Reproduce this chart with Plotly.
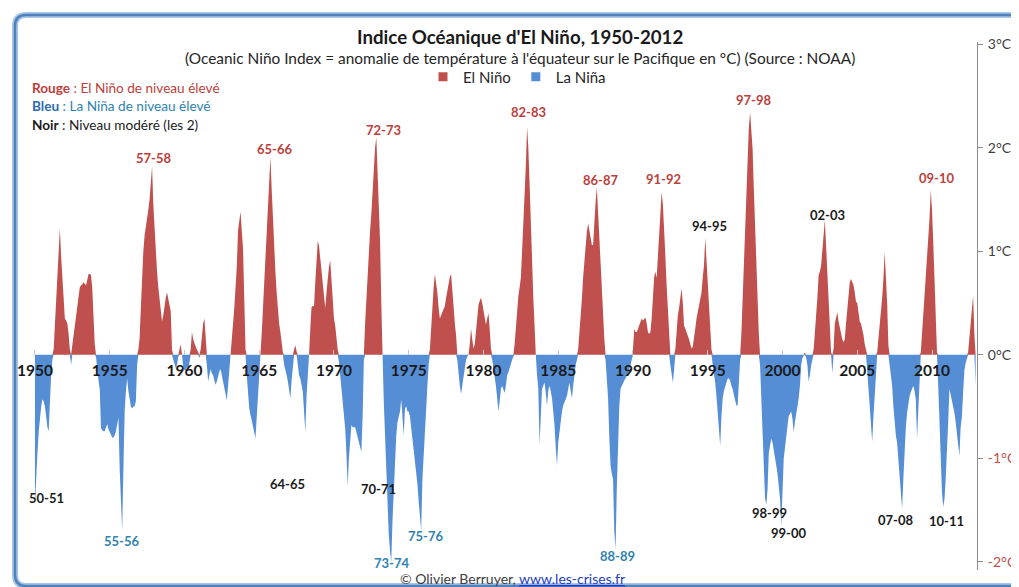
import plotly.graph_objects as go

# Monthly Oceanic Nino Index (deg C), Jan 1950 .. Dec 2012
oni_1950s = [
    -1.45, -1.13, -0.95, -0.75, -0.6, -0.5, -0.43, -0.45, -0.5, -0.6, -0.7, -0.74,   # 1950
    -0.45, -0.2, -0.05, 0.05, 0.3, 0.55, 0.75, 1.05, 1.22, 0.95, 0.75, 0.5,          # 1951
    0.35, 0.33, 0.3, 0.2, 0.05, -0.1, 0.1, 0.2, 0.3, 0.4, 0.5, 0.6,                  # 1952
    0.65, 0.67, 0.68, 0.7, 0.68, 0.67, 0.72, 0.78, 0.78, 0.77, 0.64, 0.3,            # 1953
    0.1, -0.02, -0.15, -0.25, -0.33, -0.71, -0.73, -0.74, -0.74, -0.7, -0.67, -0.72, # 1954
    -0.75, -0.77, -0.8, -0.8, -0.78, -0.74, -0.68, -0.61, -1.1, -1.45, -1.7, -1.1,   # 1955
    -0.55, -0.35, -0.23, -0.35, -0.45, -0.5, -0.52, -0.5, -0.5, -0.45, -0.1, 0.05,   # 1956
    0.16, 0.45, 0.8, 1.0, 1.15, 1.22, 1.3, 1.4, 1.5, 1.65, 1.82, 1.45,               # 1957
    1.2, 0.97, 0.8, 0.65, 0.55, 0.45, 0.32, 0.38, 0.48, 0.55, 0.6, 0.55,             # 1958
    0.5, 0.42, 0.05, -0.05, -0.1, -0.13, -0.1, -0.02, 0.05, 0.1, 0.0, -0.12,         # 1959
]
oni_1960s = [
    -0.15, -0.15, -0.12, -0.15, -0.08, 0.05, 0.22, 0.15, 0.1, 0.08, 0.05, 0.02,      # 1960
    -0.03, 0.05, 0.2, 0.3, 0.35, 0.1, -0.1, -0.26, -0.2, -0.14, -0.18, -0.2,         # 1961
    -0.25, -0.29, -0.26, -0.2, -0.16, -0.14, -0.2, -0.25, -0.3, -0.38, -0.44, -0.3,  # 1962
    -0.15, 0.0, 0.15, 0.28, 0.45, 0.65, 0.85, 1.2, 1.3, 1.38, 1.2, 1.03,             # 1963
    0.55, 0.05, -0.2, -0.4, -0.52, -0.58, -0.63, -0.68, -0.75, -0.81, -0.6, -0.37,   # 1964
    -0.15, 0.0, 0.2, 0.45, 0.67, 0.9, 1.2, 1.47, 1.7, 1.91, 1.6, 1.3,                # 1965
    1.05, 0.8, 0.6, 0.44, 0.3, 0.22, 0.1, 0.02, -0.1, -0.17, -0.2, -0.26,            # 1966
    -0.35, -0.42, -0.25, -0.1, 0.05, 0.09, 0.03, -0.1, -0.2, -0.23, -0.3, -0.36,     # 1967
    -0.55, -0.75, -0.4, -0.2, 0.0, 0.25, 0.46, 0.47, 0.47, 0.7, 0.93, 1.1,           # 1968
    1.05, 0.93, 0.8, 0.64, 0.5, 0.45, 0.6, 0.74, 0.85, 0.91, 0.7, 0.47,              # 1969
]
oni_1970s = [
    0.35, 0.28, 0.12, 0.05, -0.07, -0.2, -0.3, -0.4, -0.55, -0.71, -0.96, -1.27,     # 1970
    -1.0, -0.8, -0.68, -0.7, -0.7, -0.7, -0.75, -0.8, -0.85, -0.9, -0.94, -0.6,      # 1971
    -0.05, 0.3, 0.55, 0.82, 1.0, 1.2, 1.36, 1.6, 1.88, 2.0, 2.1, 1.8,                # 1972
    1.5, 1.1, 0.5, 0.0, -0.46, -0.8, -1.1, -1.45, -1.74, -1.9, -2.0, -1.6,           # 1973
    -1.27, -1.0, -0.78, -0.65, -0.6, -0.55, -0.43, -0.62, -0.78, -0.52, -0.5, -0.55, # 1974
    -0.55, -0.6, -0.7, -0.84, -0.95, -1.0, -1.1, -1.25, -1.42, -1.55, -1.7, -1.2,    # 1975
    -0.94, -0.7, -0.46, -0.3, -0.1, 0.05, 0.25, 0.51, 0.65, 0.78, 0.7, 0.6,          # 1976
    0.45, 0.35, 0.38, 0.41, 0.45, 0.47, 0.55, 0.62, 0.7, 0.75, 0.78, 0.65,           # 1977
    0.47, 0.3, 0.19, -0.05, -0.2, -0.3, -0.38, -0.3, -0.2, -0.1, -0.05, -0.02,       # 1978
    0.0, 0.1, 0.25, 0.15, 0.06, 0.1, 0.25, 0.42, 0.48, 0.52, 0.55, 0.5,              # 1979
]
oni_1980s = [
    0.42, 0.35, 0.29, 0.35, 0.4, 0.25, 0.06, -0.05, -0.12, -0.2, -0.3, -0.42,        # 1980
    -0.55, -0.45, -0.33, -0.3, -0.35, -0.37, -0.3, -0.2, -0.17, -0.12, -0.07, -0.05, # 1981
    -0.02, 0.1, 0.25, 0.45, 0.57, 0.65, 0.74, 1.0, 1.25, 1.6, 1.83, 2.2,             # 1982
    2.0, 1.66, 1.25, 0.87, 0.55, 0.28, 0.0, -0.2, -0.33, -0.87, -0.6, -0.33,         # 1983
    -0.3, -0.27, -0.37, -0.49, -0.35, -0.3, -0.35, -0.42, -0.55, -0.68, -0.9, -1.07, # 1984
    -0.85, -0.75, -0.6, -0.55, -0.49, -0.45, -0.43, -0.4, -0.32, -0.27, -0.35, -0.42,# 1985
    -0.3, -0.17, -0.1, -0.05, 0.05, 0.2, 0.35, 0.54, 0.75, 0.93, 1.05, 1.19,         # 1986
    1.27, 1.2, 1.12, 1.06, 1.06, 1.3, 1.48, 1.62, 1.4, 1.19, 0.9, 0.67,              # 1987
    0.4, 0.15, -0.05, -0.25, -0.42, -0.8, -1.07, -1.15, -1.2, -1.71, -1.88, -1.3,    # 1988
    -0.75, -0.5, -0.33, -0.3, -0.27, -0.25, -0.23, -0.2, -0.17, -0.15, -0.1, -0.05,  # 1989
]
oni_1990s = [
    0.05, 0.25, 0.22, 0.22, 0.25, 0.28, 0.32, 0.35, 0.33, 0.35, 0.36, 0.3,           # 1990
    0.22, 0.2, 0.22, 0.35, 0.54, 0.75, 0.8, 0.74, 0.95, 1.19, 1.4, 1.57,             # 1991
    1.45, 1.25, 0.95, 0.67, 0.4, 0.15, -0.1, -0.2, -0.27, -0.15, 0.05, 0.25,         # 1992
    0.38, 0.45, 0.55, 0.64, 0.5, 0.28, 0.25, 0.22, 0.18, 0.15, 0.1, 0.06,            # 1993
    0.08, 0.15, 0.25, 0.35, 0.41, 0.45, 0.54, 0.6, 0.75, 0.86, 1.13, 0.9,            # 1994
    0.7, 0.45, 0.22, 0.05, -0.1, -0.18, -0.27, -0.4, -0.59, -0.75, -0.88, -0.6,      # 1995
    -0.42, -0.35, -0.3, -0.26, -0.23, -0.23, -0.25, -0.3, -0.33, -0.39, -0.45, -0.49,# 1996
    -0.49, -0.27, -0.05, 0.2, 0.54, 0.85, 1.25, 1.6, 1.99, 2.2, 2.34, 2.2,           # 1997
    1.99, 1.6, 1.19, 0.8, 0.48, 0.2, -0.1, -0.42, -0.9, -1.15, -1.39, -1.45,         # 1998
    -1.3, -0.95, -0.85, -0.81, -0.85, -0.94, -1.0, -1.07, -1.15, -1.25, -1.39, -1.66,# 1999
]
oni_2000s = [
    -1.23, -1.0, -0.9, -0.78, -0.68, -0.59, -0.57, -0.55, -0.62, -0.75, -0.65, -0.55,# 2000
    -0.5, -0.42, -0.3, -0.1, -0.03, -0.01, 0.02, -0.03, -0.1, -0.26, -0.2, -0.1,     # 2001
    -0.05, 0.05, 0.2, 0.35, 0.55, 0.77, 0.8, 0.86, 1.0, 1.15, 1.3, 1.05,             # 2002
    0.77, 0.5, 0.22, 0.02, -0.18, 0.05, 0.3, 0.35, 0.41, 0.32, 0.25, 0.19,           # 2003
    0.15, 0.12, 0.15, 0.3, 0.45, 0.64, 0.7, 0.73, 0.7, 0.67, 0.6, 0.51,              # 2004
    0.5, 0.4, 0.32, 0.3, 0.25, 0.19, 0.1, 0.03, -0.15, -0.35, -0.55, -0.7,           # 2005
    -0.84, -0.6, -0.4, -0.2, 0.02, 0.15, 0.25, 0.35, 0.55, 0.73, 0.99, 0.75,         # 2006
    0.5, 0.09, -0.1, -0.2, -0.3, -0.5, -0.69, -0.78, -0.85, -1.0, -1.2, -1.35,       # 2007
    -1.49, -1.2, -0.85, -0.7, -0.56, -0.45, -0.4, -0.36, -0.33, -0.3, -0.35, -0.43,  # 2008
    -0.81, -0.5, -0.2, 0.02, 0.2, 0.38, 0.54, 0.7, 0.86, 1.1, 1.31, 1.59,            # 2009
]
oni_2010s = [
    1.4, 1.09, 0.7, 0.38, 0.02, -0.3, -0.68, -1.0, -1.33, -1.47, -1.4, -1.2,         # 2010
    -0.98, -0.65, -0.33, -0.38, -0.43, -0.5, -0.56, -0.65, -0.75, -0.85, -0.98, -0.7,# 2011
    -0.6, -0.36, -0.15, -0.08, -0.03, 0.02, 0.15, 0.3, 0.45, 0.57, 0.2, -0.3,        # 2012
]

start_year = 1950
tick_years = [1950, 1955, 1960, 1965, 1970, 1975, 1980, 1985, 1990, 1995, 2000, 2005, 2010]
y_ticks = [-2, -1, 0, 1, 2, 3]
y_labels = ["-2°C", "-1°C", "0°C", "1°C", "2°C", "3°C"]

# Event labels: (text, year position, value position, kind)
events = [
    ("57-58", 1957.96, 1.90, "strong_nino"), ("65-66", 1965.99, 1.99, "strong_nino"),
    ("72-73", 1973.28, 2.17, "strong_nino"), ("82-83", 1983.04, 2.34, "strong_nino"),
    ("86-87", 1987.86, 1.69, "strong_nino"), ("91-92", 1992.07, 1.70, "strong_nino"),
    ("97-98", 1998.09, 2.46, "strong_nino"), ("09-10", 2010.33, 1.71, "strong_nino"),
    ("94-95", 1995.15, 1.24, "moderate"), ("02-03", 2002.98, 1.35, "moderate"),
    ("50-51", 1950.80, -1.38, "moderate"), ("64-65", 1966.92, -1.25, "moderate"),
    ("70-71", 1973.01, -1.30, "moderate"), ("98-99", 1999.10, -1.53, "moderate"),
    ("99-00", 2000.37, -1.72, "moderate"), ("07-08", 2007.59, -1.60, "moderate"),
    ("10-11", 2010.94, -1.61, "moderate"),
    ("55-56", 1955.82, -1.80, "strong_nina"), ("73-74", 1973.88, -2.01, "strong_nina"),
    ("75-76", 1976.15, -1.75, "strong_nina"), ("88-89", 1988.99, -1.94, "strong_nina"),
]

RED = "#c0504d"
BLUE = "#558ed5"
RED_TXT = "#bb403c"
BLUE_TXT = "#2f83b0"
BLACK_TXT = "#1a1a1a"
FONT = "Lato"
kind_color = {"strong_nino": RED_TXT, "strong_nina": BLUE_TXT, "moderate": BLACK_TXT}

values = oni_1950s + oni_1960s + oni_1970s + oni_1980s + oni_1990s + oni_2000s + oni_2010s
x = [start_year + i / 12 for i in range(len(values))]
pos = [max(v, 0) for v in values]
neg = [min(v, 0) for v in values]

# page has an 8px body margin: figure is sized/offset so the plot lands where the reference has it
OFF = 8
W, H = 1019 - OFF, 587 - OFF
PL, PR, PT, PB = 20, 977, 42, 570          # plot area in page pixels
ML, MR, MT, MB = PL - OFF, W - (PR - OFF), PT - OFF, H - (PB - OFF)
YR = [-2.08, 3.02]
XR = [1949.0, 2013.01]
PW = PR - PL
PH = PB - PT


def px(xp):
    return (xp - PL) / PW


def py(yp):
    return (PB - yp) / PH


fig = go.Figure()
fig.add_trace(go.Scatter(x=x, y=pos, mode="lines", fill="tozeroy", fillcolor=RED,
                         line=dict(width=0, color=RED), showlegend=False, hoverinfo="skip"))
fig.add_trace(go.Scatter(x=x, y=neg, mode="lines", fill="tozeroy", fillcolor=BLUE,
                         line=dict(width=0, color=BLUE), showlegend=False, hoverinfo="skip"))
# legend entries
fig.add_trace(go.Scatter(x=[None], y=[None], mode="markers", name="El Niño",
                         marker=dict(symbol="square", size=9, color=RED)))
fig.add_trace(go.Scatter(x=[None], y=[None], mode="markers", name="La Niña",
                         marker=dict(symbol="square", size=9, color=BLUE)))

zero_pos = (0 - YR[0]) / (YR[1] - YR[0])

fig.update_layout(
    width=W, height=H, autosize=False,
    margin=dict(l=ML, r=MR, t=MT, b=MB, autoexpand=False),
    paper_bgcolor="white", plot_bgcolor="white",
    font=dict(family=FONT, color="#262626"),
    xaxis=dict(range=XR, tickvals=tick_years, ticktext=[str(t) for t in tick_years],
               anchor="free", position=zero_pos, showgrid=False, zeroline=False,
               showline=False, ticks="inside", ticklen=5, tickcolor="#c8c8c8",
               tickfont=dict(size=15.5, color="#1a1a1a", family=FONT, weight="bold"),
               ticklabelstandoff=5, automargin=False),
    yaxis=dict(range=YR, side="right", tickvals=y_ticks,
               ticktext=[("<span style='color:%s'>%s</span>" % (RED, t)) if v < 0 else t
                         for v, t in zip(y_ticks, y_labels)],
               showgrid=False, zeroline=False, showline=True, linecolor="#8c8c8c",
               linewidth=1, ticks="outside", ticklen=5, tickcolor="#8c8c8c",
               tickfont=dict(size=14, color="#404040", family=FONT), automargin=False,
               ticklabelstandoff=2),
    legend=dict(orientation="h", x=px(517), y=py(77), xanchor="center", yanchor="middle",
                font=dict(size=15, color="#262626", family=FONT), bgcolor="rgba(0,0,0,0)",
                itemwidth=30),
    showlegend=True,
)

annotations = [
    dict(text="<b>Indice Océanique d'El Niño, 1950-2012</b>", x=px(520), y=py(37),
         font=dict(size=18.7, color="#1a1a1a")),
    dict(text="(Oceanic Niño Index = anomalie de température à l'équateur sur le Pacifique en °C) (Source : NOAA)",
         x=px(520), y=py(58), font=dict(size=15.4, color="#262626")),
    dict(text="<b>Rouge</b> : El Niño de niveau élevé", x=px(30), y=py(88), xanchor="left",
         font=dict(size=13.6, color=RED_TXT)),
    dict(text="<b><span style='color:#2b6cb0'>Bleu</span></b> : La Niña de niveau élevé", x=px(30), y=py(106),
         xanchor="left", font=dict(size=13.6, color=BLUE_TXT)),
    dict(text="<b>Noir</b> : Niveau modéré (les 2)", x=px(30), y=py(125), xanchor="left",
         font=dict(size=13.6, color="#1a1a1a")),
    dict(text="© Olivier Berruyer, <span style='color:#2440c0'><u>www.les-crises.fr</u></span>",
         x=px(512), y=py(578), font=dict(size=14, color="#404040")),
]
for a in annotations:
    a.update(xref="paper", yref="paper", showarrow=False)
    a.setdefault("xanchor", "center")
    a.setdefault("yanchor", "middle")

for label, ex, ey, kind in events:
    annotations.append(dict(text="<b>%s</b>" % label, x=ex, y=ey, xref="x", yref="y",
                            showarrow=False, xanchor="center", yanchor="middle",
                            font=dict(size=13, color=kind_color[kind], family=FONT)))
fig.update_layout(annotations=annotations)


# rounded frame around the chart (page pixel coordinates)
def frame_path(x0, y0, x1, y1, r):
    pts = [
        f"M {px(x0)},{py(y1 - r)}",
        f"L {px(x0)},{py(y0 + r)}",
        f"Q {px(x0)},{py(y0)} {px(x0 + r)},{py(y0)}",
        f"L {px(x1 - r)},{py(y0)}",
        f"Q {px(x1)},{py(y0)} {px(x1)},{py(y0 + r)}",
        f"L {px(x1)},{py(y1 - r)}",
        f"Q {px(x1)},{py(y1)} {px(x1 - r)},{py(y1)}",
        f"L {px(x0 + r)},{py(y1)}",
        f"Q {px(x0)},{py(y1)} {px(x0)},{py(y1 - r)}",
        "Z",
    ]
    return " ".join(pts)


fp = frame_path(15, 15, 1040, 586, 11)
fig.add_shape(type="path", path=fp, xref="paper", yref="paper",
              line=dict(color="#a9c4e4", width=6), layer="below")
fig.add_shape(type="path", path=fp, xref="paper", yref="paper",
              line=dict(color="#4f81bd", width=2.5), layer="below")

fig.write_html("out.html")
